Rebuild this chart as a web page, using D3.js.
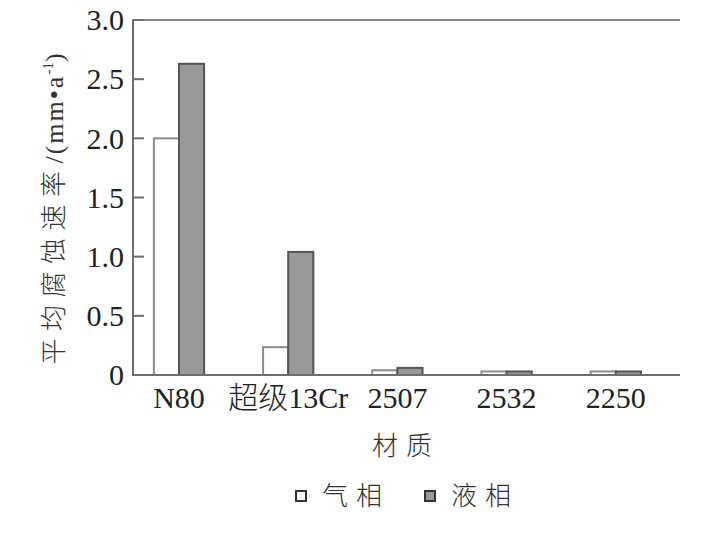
<!DOCTYPE html>
<html><head><meta charset="utf-8">
<script src="https://cdn.jsdelivr.net/npm/d3@7/dist/d3.min.js"></script>
<style>body{margin:0;background:#fff}svg{display:block}</style>
</head><body><svg id="c" width="725" height="539"></svg>
<script>
const categories = ["N80", "超级13Cr", "2507", "2532", "2250"];
const gasValues = [2.0, 0.235, 0.04, 0.03, 0.03];
const liquidValues = [2.63, 1.04, 0.06, 0.03, 0.03];
const seriesNames = ["气相", "液相"];
const yTicks = [0, 0.5, 1.0, 1.5, 2.0, 2.5, 3.0];
const yTickLabels = ["0", "0.5", "1.0", "1.5", "2.0", "2.5", "3.0"];

(function () {
const svg = d3.select("#c");
const serif = "'Liberation Serif','Noto Sans CJK SC',serif";
const axisColor = "#6e6e6e";
const pLeft = 133, pRight = 680, pTop = 20, pBottom = 375;

const y = d3.scaleLinear().domain([0, 3]).range([pBottom, pTop]);
const x = d3.scaleBand().domain(categories).range([124.4, 670.4]).paddingInner(0.54).paddingOuter(0.27);
const bw = x.bandwidth() / 2;

// bars
const g = svg.append("g");
categories.forEach((c, i) => {
  g.append("rect").attr("x", x(c)).attr("y", y(gasValues[i]))
    .attr("width", bw).attr("height", y(0) - y(gasValues[i]))
    .attr("fill", "#fff").attr("stroke", "#8c8c8c").attr("stroke-width", 2);
  g.append("rect").attr("x", x(c) + bw).attr("y", y(liquidValues[i]))
    .attr("width", bw).attr("height", y(0) - y(liquidValues[i]))
    .attr("fill", "#999").attr("stroke", "#555").attr("stroke-width", 2);
});

// axes
svg.append("line").attr("x1", pLeft).attr("x2", pLeft).attr("y1", pTop).attr("y2", pBottom)
  .attr("stroke", axisColor).attr("stroke-width", 2);
svg.append("line").attr("x1", pLeft - 1).attr("x2", pRight).attr("y1", pBottom).attr("y2", pBottom)
  .attr("stroke", axisColor).attr("stroke-width", 2);
svg.append("line").attr("x1", pLeft - 1).attr("x2", pRight).attr("y1", pTop).attr("y2", pTop)
  .attr("stroke", "#888").attr("stroke-width", 2);

yTicks.forEach((t, i) => {
  svg.append("line").attr("x1", pLeft).attr("x2", pLeft + 11).attr("y1", y(t)).attr("y2", y(t))
    .attr("stroke", axisColor).attr("stroke-width", 2);
  svg.append("text").attr("x", 124).attr("y", y(t)).attr("dy", "0.34em")
    .attr("text-anchor", "end").attr("font-family", serif).attr("font-size", 30)
    .attr("fill", "#222").text(yTickLabels[i]);
});

categories.forEach(c => {
  svg.append("text").attr("x", x(c) + x.bandwidth() / 2).attr("y", 408)
    .attr("text-anchor", "middle").attr("font-family", serif).attr("font-size", 30)
    .attr("fill", "#222").attr("font-weight", 300).text(c);
});

// axis titles
svg.append("text").attr("x", 406).attr("y", 455).attr("text-anchor", "middle")
  .attr("font-family", serif).attr("font-size", 26).attr("letter-spacing", 8)
  .attr("font-weight", 300).attr("fill", "#333").text("材质");

const yl = svg.append("text").attr("transform", "translate(63,209) rotate(-90)")
  .attr("text-anchor", "middle").attr("font-family", serif).attr("font-size", 26)
  .attr("font-weight", 300).attr("fill", "#333");
yl.append("tspan").attr("letter-spacing", 7.5).text("平均腐蚀速率");
yl.append("tspan").attr("letter-spacing", 2).text("/(mm•a");
yl.append("tspan").attr("font-size", 15).attr("dy", -10).text("-1");
yl.append("tspan").attr("dy", 10).text(")");

// legend
const legendX = [296, 425];
const legendFill = ["#fff", "#999"];
const legendStroke = ["#333", "#333"];
seriesNames.forEach((s, i) => {
  svg.append("rect").attr("x", legendX[i]).attr("y", 491).attr("width", 10).attr("height", 10)
    .attr("fill", legendFill[i]).attr("stroke", legendStroke[i]).attr("stroke-width", 2);
  svg.append("text").attr("x", legendX[i] + 26).attr("y", 505)
    .attr("font-family", serif).attr("font-size", 26).attr("letter-spacing", 8)
    .attr("font-weight", 300).attr("fill", "#333").text(s);
});
})();
</script></body></html>
